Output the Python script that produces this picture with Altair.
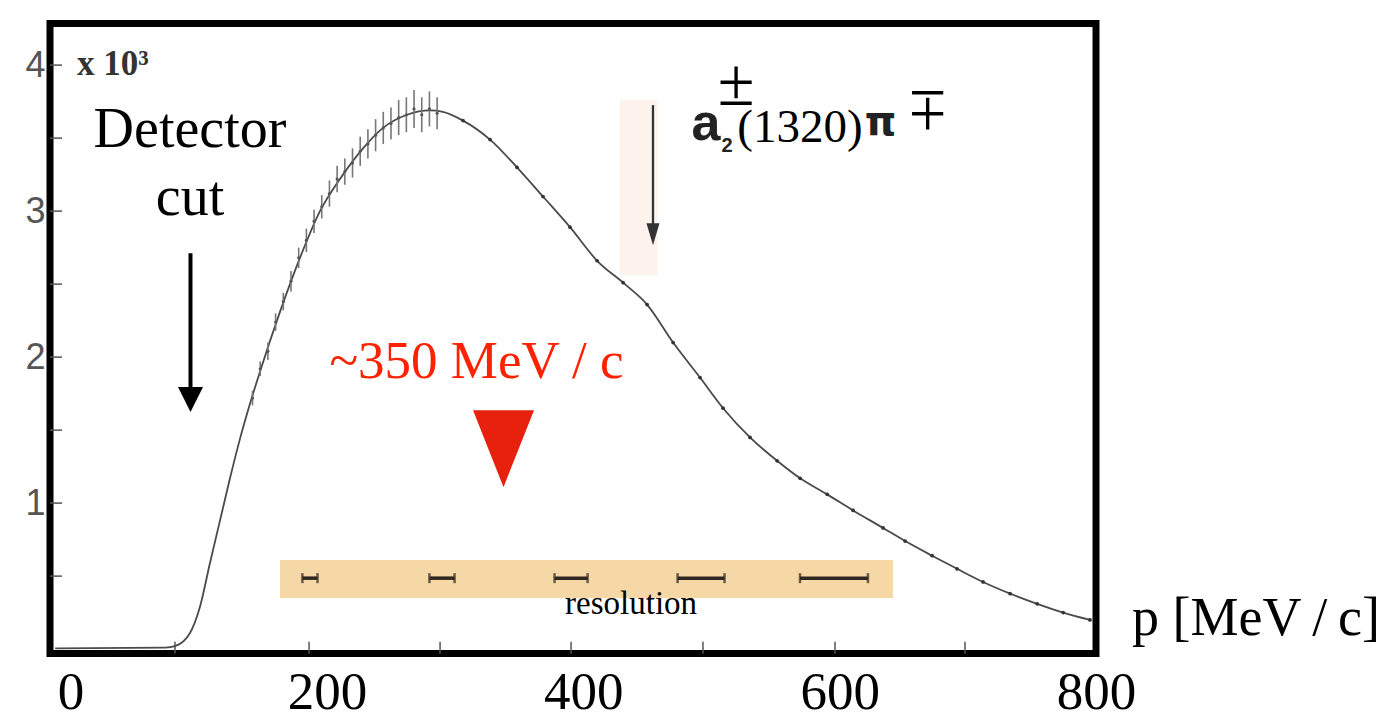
import altair as alt
import pandas as pd

# ---------------- data ----------------
# fitted curve (p in MeV/c, counts in units of 10^3)
curve_p = [-12, 74, 81.5, 93.2, 101.0, 108.8, 116.6, 124.4, 132.2, 140.0, 147.8,
           163.4, 179.0, 194.6, 210.2, 228.2, 243.8, 262.5, 280.5, 290.6, 306.2,
           327.3, 348.3, 368.6, 389.7, 410.8, 431.1, 449.8, 470.1, 491.1, 509.1,
           530.1, 551.2, 569.2, 590.3, 610.5, 633.9, 651.1, 672.1, 691.6, 711.9,
           733.0, 754.1, 774.4, 795.3]
curve_n = [0.005, 0.01, 0.02, 0.11, 0.29, 0.59, 0.88, 1.17, 1.44, 1.68, 1.90,
           2.31, 2.68, 3.00, 3.22, 3.43, 3.57, 3.66, 3.69, 3.68, 3.62,
           3.49, 3.30, 3.10, 2.89, 2.66, 2.51, 2.36, 2.10, 1.86, 1.65,
           1.45, 1.29, 1.17, 1.06, 0.95, 0.83, 0.74, 0.64, 0.55, 0.46,
           0.38, 0.31, 0.25, 0.20]

# measured points with error bars (rising part)
err_p = [142, 148, 154, 160, 166, 172, 178, 184, 190, 196, 202, 208, 214,
         220, 226, 232, 238, 244, 250, 256, 262, 268, 274, 280, 286]
err_n = [1.72, 1.92, 2.04, 2.24, 2.38, 2.52, 2.68, 2.80, 2.93, 3.03, 3.12, 3.22, 3.27,
         3.33, 3.41, 3.46, 3.52, 3.57, 3.60, 3.64, 3.66, 3.70, 3.66, 3.70, 3.67]
err_e = [0.05, 0.05, 0.06, 0.06, 0.06, 0.07, 0.07, 0.08, 0.08, 0.08, 0.09, 0.09, 0.09,
         0.10, 0.10, 0.10, 0.11, 0.11, 0.11, 0.12, 0.12, 0.13, 0.12, 0.12, 0.11]

# measured points (falling part)
pts_p = curve_p[20:]
pts_n = curve_n[20:]

# resolution bars
res_p = [186.8, 289.8, 390.5, 491.9, 595.6]
res_hw = [5.9, 9.8, 12.9, 18.3, 26.5]
res_n = 0.486
band_p = [163.4, 641.6]
band_n = [0.35, 0.61]

# inner ticks of the scanned frame
inner_xticks = [81.5, 186.1, 288.3, 390.5, 493.4, 596.4, 697.8]
inner_yticks = [0.5, 1.0, 1.5, 2.0, 2.5, 3.0, 3.5, 4.0]

x_labels = [0, 200, 400, 600, 800]
y_labels = [1, 2, 3, 4]

# ---------------- scales / helpers ----------------
xs = alt.Scale(domain=[-16, 800], nice=False, zero=False)
ys = alt.Scale(domain=[-0.03, 4.285], nice=False, zero=False)
xaxis = alt.Axis(values=x_labels, ticks=False, tickSize=0, domain=False, grid=False,
                 labelFontSize=53, labelFont="Liberation Serif", labelColor="black",
                 labelBaseline="alphabetic", labelPadding=55, labelFlush=False,
                 labelOverlap=False, title=None)
yaxis = alt.Axis(values=y_labels, ticks=False, tickSize=0, domain=False, grid=False,
                 labelFontSize=36, labelFont="Liberation Sans", labelColor="#555555",
                 labelPadding=5, labelFlush=False, labelOverlap=False, title=None)


def X(f):
    return alt.X(f, type="quantitative", scale=xs, axis=xaxis)


def Y(f):
    return alt.Y(f, type="quantitative", scale=ys, axis=yaxis)


def text_layer(x, y, s, size, color="black", font="Liberation Serif", align="center",
               weight="normal", baseline="alphabetic", angle=0):
    df = pd.DataFrame({"x": [x], "y": [y], "t": [s]})
    return alt.Chart(df).mark_text(
        fontSize=size, font=font, color=color, align=align, baseline=baseline,
        fontWeight=weight, angle=angle
    ).encode(x=X("x"), y=Y("y"), text="t:N")


# ---------------- layers ----------------
band = alt.Chart(pd.DataFrame({"x": [band_p[0]], "x2": [band_p[1]],
                               "y": [band_n[0]], "y2": [band_n[1]]})).mark_rect(
    color="#f5d8a5").encode(x=X("x"), x2="x2", y=Y("y"), y2="y2")

smear = alt.Chart(pd.DataFrame({"x": [428.5], "x2": [458.0], "y": [2.56], "y2": [3.76]})).mark_rect(
    color="#fdf3ec").encode(x=X("x"), x2="x2", y=Y("y"), y2="y2")

res_df = pd.DataFrame({"c": res_p, "lo": [c - h for c, h in zip(res_p, res_hw)],
                       "hi": [c + h for c, h in zip(res_p, res_hw)], "y": [res_n] * len(res_p)})
res_bar = alt.Chart(res_df).mark_rule(color="#2e2620", strokeWidth=3.5).encode(
    x=X("lo"), x2="hi", y=Y("y"))
res_cap_l = alt.Chart(res_df).mark_tick(color="#2e2620", orient="vertical", size=10,
                                        thickness=2.5).encode(x=X("lo"), y=Y("y"))
res_cap_r = alt.Chart(res_df).mark_tick(color="#2e2620", orient="vertical", size=10,
                                        thickness=2.5).encode(x=X("hi"), y=Y("y"))

curve = alt.Chart(pd.DataFrame({"p": curve_p, "n": curve_n})).mark_line(
    color="#4a4a4a", strokeWidth=1.8, interpolate="monotone").encode(x=X("p"), y=Y("n"))

err_df = pd.DataFrame({"p": err_p, "n": err_n,
                       "lo": [a - b for a, b in zip(err_n, err_e)],
                       "hi": [a + b for a, b in zip(err_n, err_e)]})
errs = alt.Chart(err_df).mark_rule(color="#777777", strokeWidth=1.6).encode(
    x=X("p"), y=Y("lo"), y2="hi")
err_pts = alt.Chart(err_df).mark_point(filled=True, color="#555555", size=10, opacity=1).encode(
    x=X("p"), y=Y("n"))

pts = alt.Chart(pd.DataFrame({"p": pts_p, "n": pts_n})).mark_point(
    filled=True, color="#333333", size=14, opacity=1).encode(x=X("p"), y=Y("n"))

xt = alt.Chart(pd.DataFrame({"x": inner_xticks, "y": [-0.03] * len(inner_xticks),
                             "y2": [0.05] * len(inner_xticks)})).mark_rule(
    color="#555555", strokeWidth=1.5).encode(x=X("x"), y=Y("y"), y2="y2")
yt = alt.Chart(pd.DataFrame({"y": inner_yticks, "x": [-16] * len(inner_yticks),
                             "x2": [-6.6] * len(inner_yticks)})).mark_rule(
    color="#555555", strokeWidth=1.5).encode(x=X("x"), x2="x2", y=Y("y"))

# detector-cut arrow
det_line = alt.Chart(pd.DataFrame({"x": [93.6], "y": [1.774], "y2": [2.712]})).mark_rule(
    color="black", strokeWidth=4).encode(x=X("x"), y=Y("y"), y2="y2")
det_head = alt.Chart(pd.DataFrame({"x": [93.6], "y": [1.709]})).mark_point(
    shape="M-1,-1L1,-1L0,1Z", size=625, filled=True, color="black", opacity=1).encode(
    x=X("x"), y=Y("y"))

# a2 arrow
a2_line = alt.Chart(pd.DataFrame({"x": [454.4], "y": [2.87], "y2": [3.726]})).mark_rule(
    color="#333333", strokeWidth=2.3).encode(x=X("x"), y=Y("y"), y2="y2")
a2_head = alt.Chart(pd.DataFrame({"x": [454.4], "y": [2.842]})).mark_point(
    shape="M-1,-1.7L1,-1.7L0,1.7Z", size=169, filled=True, color="#333333", opacity=1).encode(
    x=X("x"), y=Y("y"))

# red marker
red_tri = alt.Chart(pd.DataFrame({"x": [337.8], "y": [1.373]})).mark_point(
    shape="M-1,-1.262L1,-1.262L0,1.262Z", size=3721, filled=True, color="#e8210f",
    opacity=1).encode(x=X("x"), y=Y("y"))

texts = [
    text_layer(5.1, 3.932, "x 10³", 35, color="#333333", weight="bold", align="left"),
    text_layer(93.2, 3.438, "Detector", 56),
    text_layer(93.2, 2.973, "cut", 56),
    text_layer(316.7, 1.856, "~350 MeV / c", 53, color="#ff2200"),
    text_layer(437.3, 0.24, "resolution", 33),
    text_layer(828.1, 0.096, "p [MeV\u2009/\u2009c]", 54, align="left"),
    text_layer(495.8, 3.486, "a", 52, font="Liberation Sans", color="#222222", weight="bold"),
    text_layer(512.2, 3.404, "2", 20, font="Liberation Sans", color="#222222", weight="bold"),
    text_layer(519.2, 3.726, "±", 67),
    text_layer(569.1, 3.473, "(1320)", 47),
    text_layer(631.9, 3.521, "π", 40, font="DejaVu Sans", color="#222222", weight="bold"),
    text_layer(668.6, 3.688, "±", 67, baseline="middle", angle=180),
]

chart = alt.layer(
    band, smear, res_bar, res_cap_l, res_cap_r, xt, yt, curve, errs, err_pts, pts,
    det_line, det_head, a2_line, a2_head, red_tri, *texts
).properties(
    width=1046, height=630,
    autosize=alt.AutoSizeParams(type="none"),
    padding={"left": 42, "top": 15.5, "right": 291, "bottom": 66.5},
    background="white",
).configure_view(stroke="black", strokeWidth=7)

chart.save("out.html", embed_options={"renderer": "svg", "actions": False})
